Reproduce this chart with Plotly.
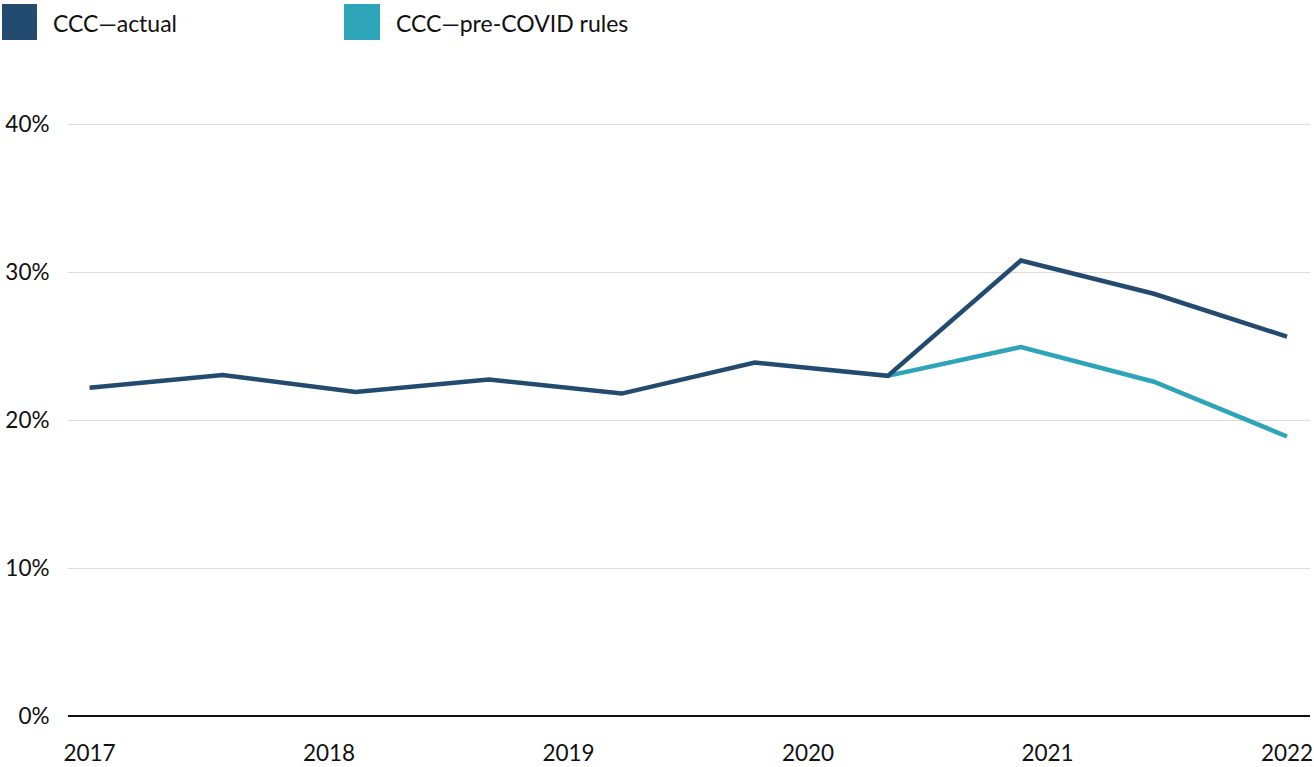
import plotly.graph_objects as go

# Data
x_years = [2017.0, 2017.556, 2018.111, 2018.667, 2019.222, 2019.778, 2020.333, 2020.889, 2021.444, 2022.0]
ccc_actual = [22.2, 23.05, 21.9, 22.75, 21.8, 23.9, 23.0, 30.8, 28.55, 25.65]
x_pre = [2020.333, 2020.889, 2021.444, 2022.0]
ccc_pre_covid = [23.0, 24.95, 22.6, 18.9]
tick_years = [2017, 2018, 2019, 2020, 2021, 2022]
tick_labels = ["2017", "2018", "2019", "2020", "2021", "2022"]
y_ticks = [0, 10, 20, 30, 40]
y_tick_labels = ["0%", "10%", "20%", "30%", "40%"]
series_names = ["CCC\u2014actual", "CCC\u2014pre-COVID rules"]

DARK = "#224B6F"
TEAL = "#2EA4B9"
FONT = "Lato, 'Open Sans', sans-serif"

W, H = 1314, 767
ML, MR, MT, MB = 68, 4, 100, 51
PW, PH = W - ML - MR, H - MT - MB

def px(x):
    return (x - ML) / PW

def py(y):
    return (H - MB - y) / PH

fig = go.Figure()
fig.add_trace(go.Scatter(x=x_pre, y=ccc_pre_covid, mode="lines", name=series_names[1],
                         line=dict(color=TEAL, width=4.5), showlegend=False,
                         hovertemplate="%{y:.1f}%<extra></extra>"))
fig.add_trace(go.Scatter(x=x_years, y=ccc_actual, mode="lines", name=series_names[0],
                         line=dict(color=DARK, width=4.5), showlegend=False,
                         hovertemplate="%{y:.1f}%<extra></extra>"))

# Custom legend (squares + text)
legend_items = [(2, 37, 51, DARK, series_names[0]), (344, 380, 394, TEAL, series_names[1])]
shapes = []
annotations = []
for x0, x1, xt, col, name in legend_items:
    shapes.append(dict(type="rect", xref="paper", yref="paper",
                       x0=px(x0), x1=px(x1), y0=py(40), y1=py(4),
                       fillcolor=col, line=dict(width=0)))
    annotations.append(dict(xref="paper", yref="paper", x=px(xt), y=py(23),
                            text=name, showarrow=False, xanchor="left", yanchor="middle",
                            font=dict(family=FONT, size=23, color="#111111")))

fig.update_layout(
    width=W, height=H, autosize=False,
    margin=dict(l=ML, r=MR, t=MT, b=MB, pad=0),
    paper_bgcolor="white", plot_bgcolor="white",
    shapes=shapes, annotations=annotations,
    showlegend=False,
    font=dict(family=FONT, size=22, color="#111111"),
    xaxis=dict(range=[2016.91, 2022.096], tickvals=tick_years, ticktext=tick_labels,
               showgrid=False, zeroline=False, showline=False, automargin=False,
               ticks="outside", ticklen=17, tickcolor="rgba(0,0,0,0)",
               tickfont=dict(family=FONT, size=22.5, color="#111111"), fixedrange=True),
    yaxis=dict(range=[0, PH / 14.79], tickvals=y_ticks, ticktext=y_tick_labels,
               showgrid=True, gridcolor="#DCDCDC", gridwidth=1, automargin=False,
               zeroline=True, zerolinecolor="#111111", zerolinewidth=2,
               showline=False, ticks="outside", ticklen=13, tickcolor="rgba(0,0,0,0)",
               tickfont=dict(family=FONT, size=22.5, color="#111111"), fixedrange=True),
)

fig.write_html("out.html", config={"displayModeBar": False},
               post_script="document.body.style.margin='0';document.body.style.overflow='hidden';")
